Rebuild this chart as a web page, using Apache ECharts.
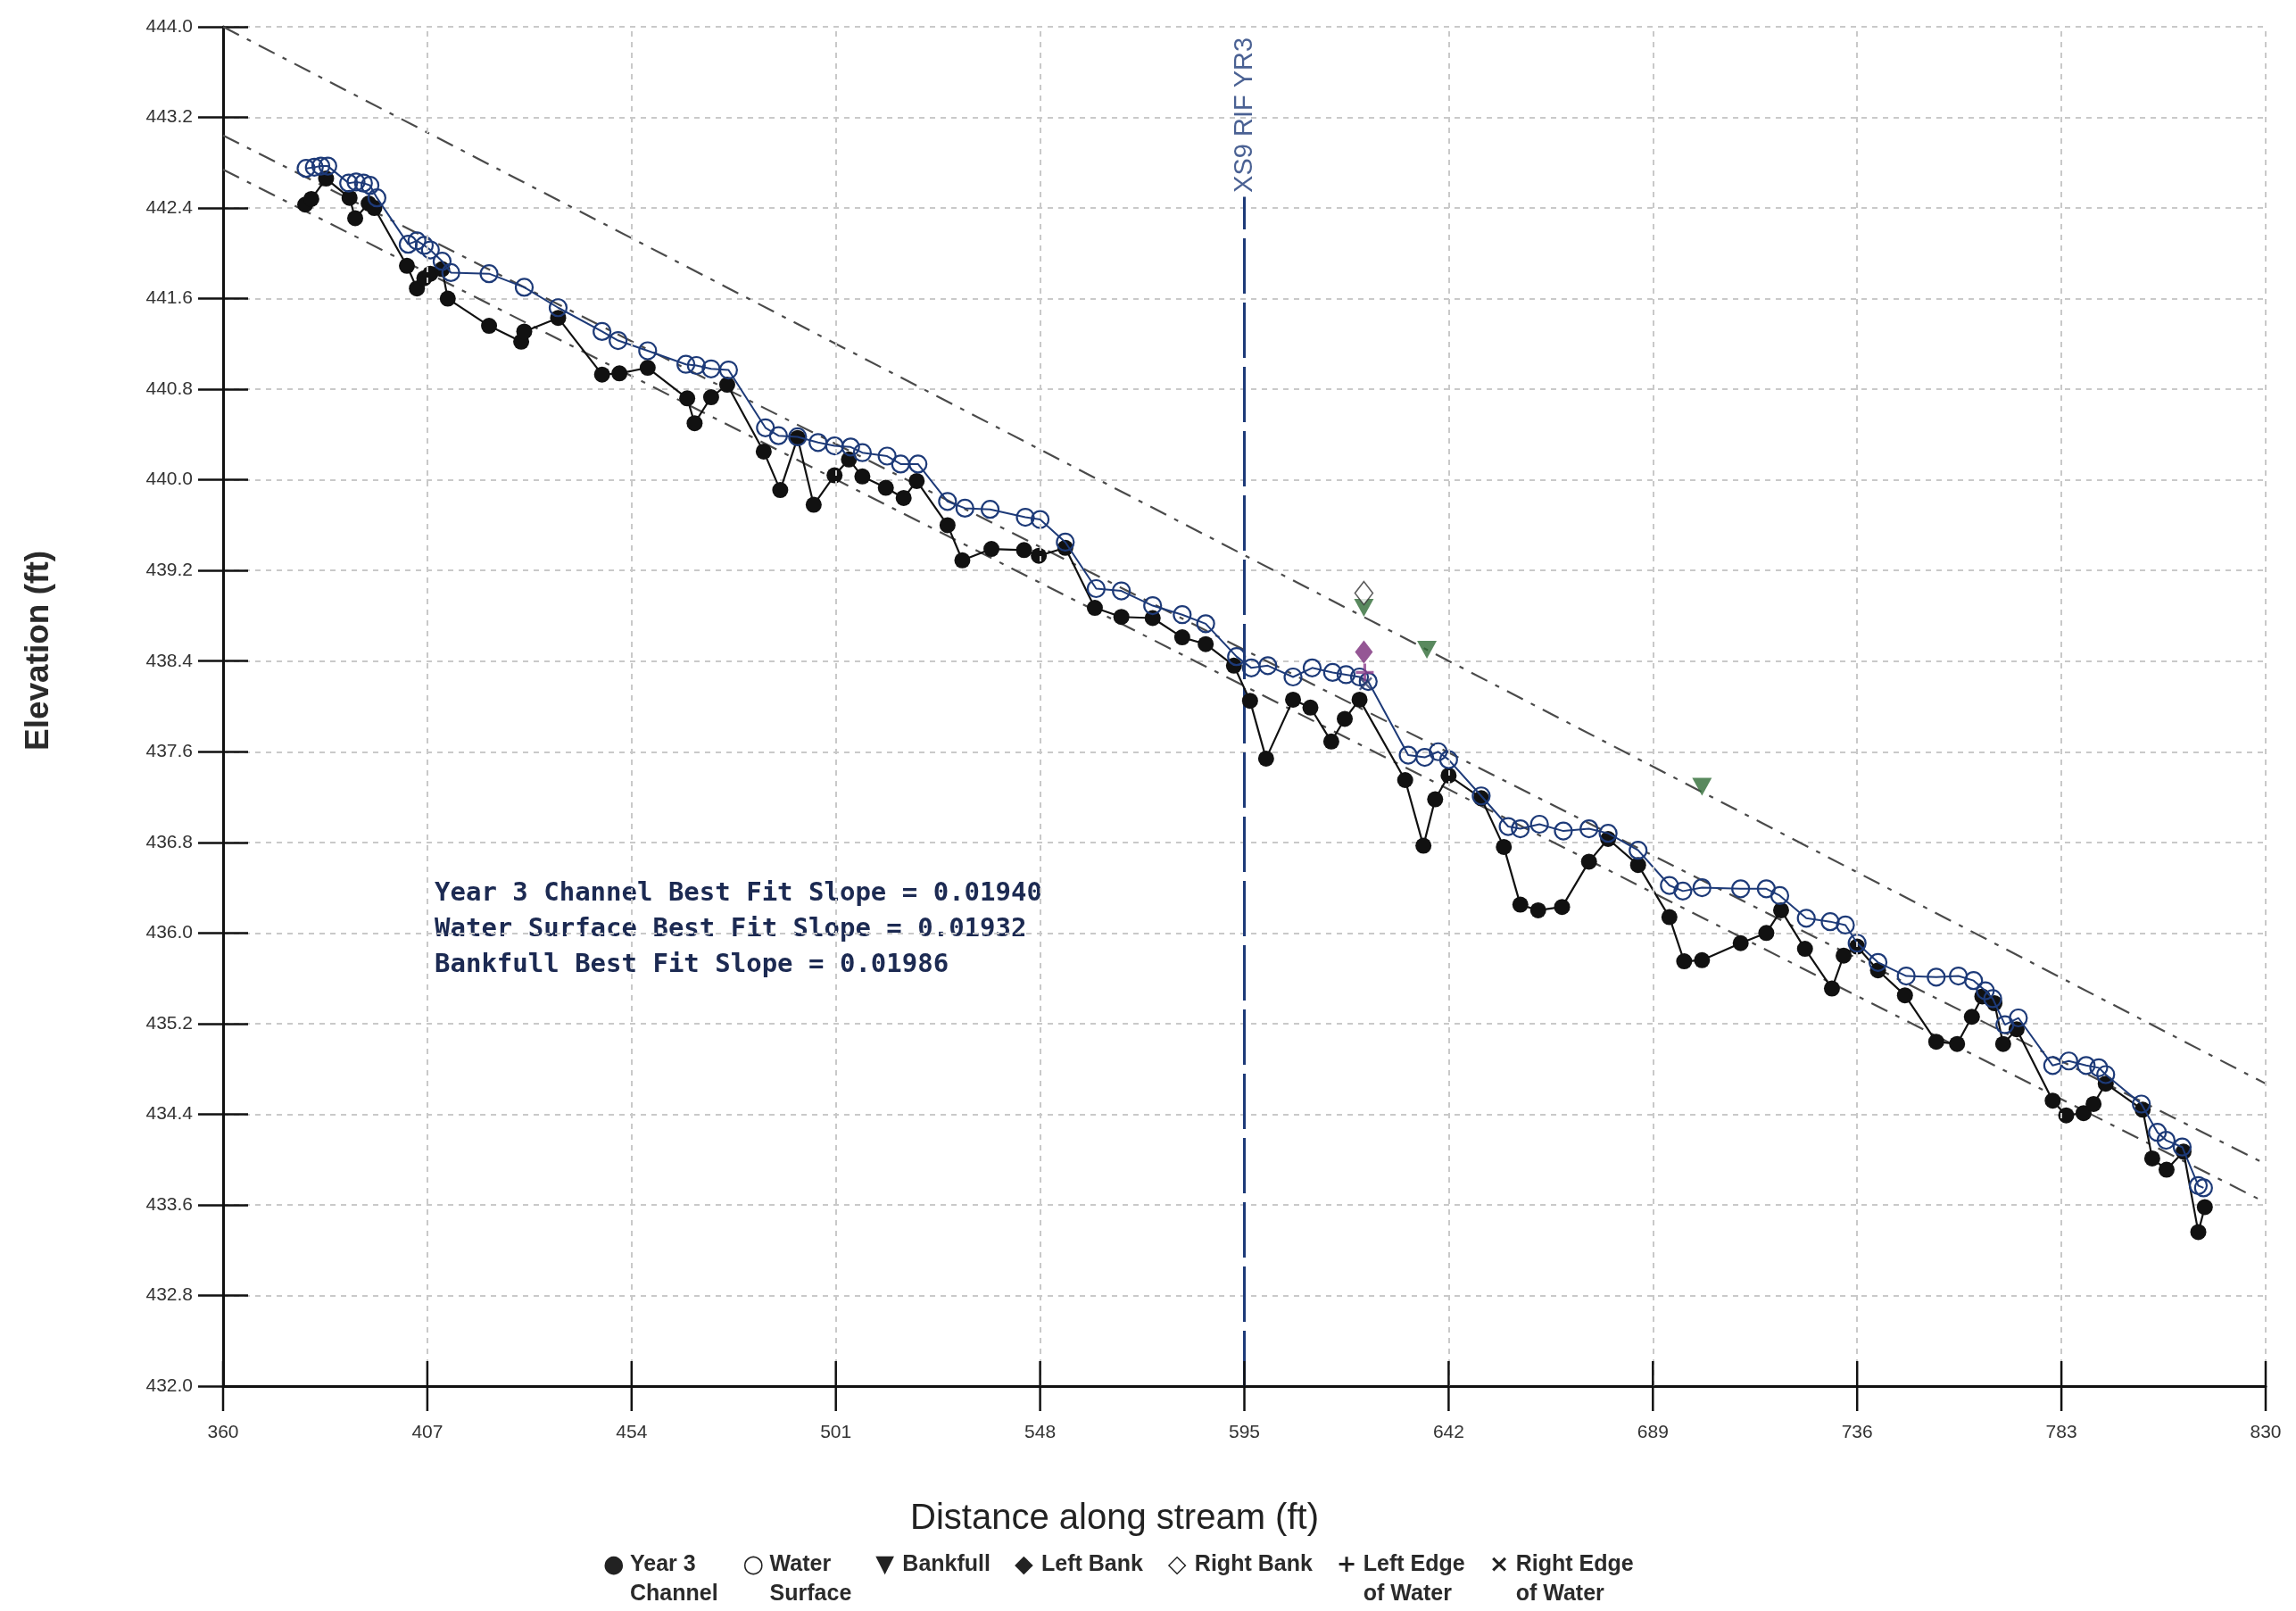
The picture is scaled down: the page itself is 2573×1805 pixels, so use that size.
<!DOCTYPE html>
<html>
<head>
<meta charset="utf-8">
<script src="https://cdn.jsdelivr.net/npm/echarts@6/dist/echarts.min.js"></script>
<style>
html,body{margin:0;padding:0;background:#ffffff;}
#chart{width:2573px;height:1805px;}
</style>
</head>
<body>
<div id="chart"></div>
<script>
// ---------------- data ----------------
const xTicks = [360, 407, 454, 501, 548, 595, 642, 689, 736, 783, 830];

const channelX = [378.9, 380.3, 383.7, 389.1, 390.4, 393.5, 394.8, 402.3, 404.6, 406.3, 407.7, 410.4, 411.7, 421.2, 428.6, 429.3, 437.1, 447.2, 451.2, 457.7,
  466.8, 468.5, 472.3, 476.0, 484.4, 488.2, 492.2, 495.9, 500.7, 504.0, 507.1, 512.5, 516.6, 519.6, 526.7, 530.1, 536.8, 544.3, 547.7, 553.8,
  560.6, 566.7, 573.9, 580.7, 586.1, 592.6, 596.3, 600.0, 606.2, 610.2, 615.0, 618.1, 621.5, 632.0, 636.2, 638.9, 642.0, 649.5, 654.7, 658.5,
  662.6, 668.1, 674.3, 678.7, 685.6, 692.8, 696.2, 700.3, 709.2, 715.1, 718.5, 724.0, 730.2, 732.9, 736.0, 740.8, 747.0, 754.2, 759.0, 762.4,
  764.8, 767.6, 769.6, 772.7, 781.0, 784.1, 788.1, 790.4, 793.2, 801.7, 803.9, 807.2, 811.1, 814.5, 816.0];
const channelY = [442.43, 442.48, 442.66, 442.49, 442.31, 442.44, 442.40, 441.89, 441.69, 441.78, 441.82, 441.86, 441.60, 441.36, 441.22, 441.31, 441.43, 440.93, 440.94, 440.99,
  440.72, 440.50, 440.73, 440.84, 440.25, 439.91, 440.37, 439.78, 440.04, 440.18, 440.03, 439.93, 439.84, 439.99, 439.60, 439.29, 439.39, 439.38, 439.33, 439.40,
  438.87, 438.79, 438.78, 438.61, 438.55, 438.36, 438.05, 437.54, 438.06, 437.99, 437.69, 437.89, 438.06, 437.35, 436.77, 437.18, 437.39, 437.19, 436.76, 436.25,
  436.20, 436.23, 436.63, 436.83, 436.60, 436.14, 435.75, 435.76, 435.91, 436.00, 436.20, 435.86, 435.51, 435.80, 435.88, 435.67, 435.45, 435.04, 435.02, 435.26,
  435.44, 435.38, 435.02, 435.15, 434.52, 434.39, 434.41, 434.49, 434.67, 434.44, 434.01, 433.91, 434.07, 433.36, 433.58];

const waterX = [379.1, 381.0, 382.5, 384.1, 388.9, 390.6, 392.3, 393.8, 395.4, 402.6, 404.6, 406.3, 407.7, 410.4, 412.4, 421.2, 429.3, 437.1, 447.2, 450.9,
  457.7, 466.5, 468.9, 472.3, 476.3, 484.8, 487.8, 492.2, 496.9, 500.7, 504.4, 507.1, 512.8, 515.9, 519.9, 526.7, 530.7, 536.5, 544.6, 548.0,
  553.8, 560.9, 566.7, 573.9, 580.7, 586.1, 593.2, 596.6, 600.4, 606.2, 610.6, 615.3, 618.4, 621.5, 623.5, 632.7, 636.5, 639.6, 642.0, 649.5,
  655.7, 658.5, 662.9, 668.4, 674.3, 678.7, 685.6, 692.8, 695.9, 700.3, 709.2, 715.1, 718.2, 724.3, 729.8, 733.3, 736.0, 740.8, 747.3, 754.2,
  759.3, 762.8, 765.5, 767.2, 770.0, 773.1, 781.0, 784.7, 788.7, 791.6, 793.2, 801.4, 805.1, 807.1, 810.8, 814.5, 815.7];
const waterY = [442.75, 442.76, 442.77, 442.77, 442.62, 442.63, 442.62, 442.60, 442.49, 442.08, 442.11, 442.07, 442.03, 441.93, 441.83, 441.82, 441.70, 441.52, 441.31, 441.23,
  441.14, 441.02, 441.01, 440.98, 440.97, 440.46, 440.39, 440.38, 440.33, 440.30, 440.29, 440.24, 440.21, 440.14, 440.14, 439.81, 439.75, 439.74, 439.67, 439.65,
  439.45, 439.04, 439.02, 438.89, 438.81, 438.73, 438.44, 438.34, 438.36, 438.26, 438.34, 438.30, 438.28, 438.26, 438.22, 437.57, 437.55, 437.60, 437.53, 437.21,
  436.94, 436.92, 436.96, 436.90, 436.92, 436.88, 436.73, 436.42, 436.37, 436.40, 436.39, 436.39, 436.33, 436.13, 436.10, 436.07, 435.91, 435.74, 435.62, 435.61,
  435.62, 435.58, 435.49, 435.42, 435.19, 435.25, 434.83, 434.87, 434.83, 434.81, 434.75, 434.49, 434.24, 434.17, 434.11, 433.77, 433.75];

const bankfullX = [622.5, 637.0, 700.3];
const bankfullY = [438.87, 438.50, 437.29];
const leftBankX = [622.5];
const leftBankY = [438.48];
const rightBankX = [622.5];
const rightBankY = [439.00];
const leftEdgeX = [622.7];
const leftEdgeY = [438.30];
const rightEdgeX = [622.9];
const rightEdgeY = [438.20];

const fitX = [360, 830];
const channelFitY = [442.74, 433.62];
const waterFitY = [443.04, 433.96];
const bankfullFitY = [444.00, 434.67];

const xsLineX = [595, 595];
const xsLineY = [432, 442.5];
const xsLabel = 'XS9 RIF YR3';

const slopeLines = [
  'Year 3 Channel Best Fit Slope = 0.01940',
  'Water Surface Best Fit Slope = 0.01932',
  'Bankfull Best Fit Slope = 0.01986'
];

const legendNames = ['Year 3 Channel', 'Water Surface', 'Bankfull', 'Left Bank', 'Right Bank', 'Left Edge of Water', 'Right Edge of Water'];
const legendLines = {
  'Year 3 Channel': ['Year 3', 'Channel'],
  'Water Surface': ['Water', 'Surface'],
  'Bankfull': ['Bankfull', ''],
  'Left Bank': ['Left Bank', ''],
  'Right Bank': ['Right Bank', ''],
  'Left Edge of Water': ['Left Edge', 'of Water'],
  'Right Edge of Water': ['Right Edge', 'of Water']
};
const legendGlyphs = {
  'Year 3 Channel': '\u25CF', 'Water Surface': '\u25CB', 'Bankfull': '\u25BC',
  'Left Bank': '\u25C6', 'Right Bank': '\u25C7', 'Left Edge of Water': '+', 'Right Edge of Water': '\u00D7'
};

// ---------------- helpers ----------------
const pairs = (xs, ys) => xs.map((x, i) => [x, ys[i]]);
const PLUS = 'path://M4.2,0h1.6v10h-1.6z M0,4.2h10v1.6h-10z';
const CROSS = 'path://M0,1.1 L1.1,0 L10,8.9 L8.9,10 Z M8.9,0 L10,1.1 L1.1,10 L0,8.9 Z';
const NAVY = '#1d3a78';
const FITSTYLE = { color: '#4a4a4a', width: 2.2, type: [20, 10, 5, 10] };
const GRIDSTYLE = { color: '#c9c9c9', width: 2, type: [6, 6] };
const TICKSTYLE = { color: '#111', width: 2.5 };
const TICKLEN = 28;

const chart = echarts.init(document.getElementById('chart'), null, { renderer: 'canvas' });

const option = {
  animation: false,
  backgroundColor: '#ffffff',
  grid: { left: 250, right: 34, top: 30, bottom: 252, containLabel: false },
  xAxis: [
    {
      type: 'value', min: 360, max: 830, position: 'bottom',
      axisLine: { show: true, lineStyle: { color: '#111', width: 3 } },
      axisTick: { show: false, customValues: xTicks },
      axisLabel: { show: true, margin: 42, color: '#333', fontFamily: 'Liberation Sans', fontSize: 21, customValues: xTicks },
      splitLine: { show: false }
    }
  ],
  yAxis: [
    {
      type: 'value', min: 432, max: 444, interval: 0.8, position: 'left',
      axisLine: { show: true, lineStyle: { color: '#111', width: 3 } },
      axisTick: { show: true, inside: false, length: TICKLEN, lineStyle: TICKSTYLE },
      axisLabel: { show: true, margin: 34, color: '#333', fontFamily: 'Liberation Sans', fontSize: 21, formatter: v => v.toFixed(1) },
      splitLine: { show: true, lineStyle: GRIDSTYLE }
    },
    {
      type: 'value', min: 432, max: 444, interval: 0.8, position: 'left',
      axisLine: { show: false },
      axisTick: { show: true, inside: true, length: TICKLEN, lineStyle: TICKSTYLE },
      axisLabel: { show: false },
      splitLine: { show: false }
    }
  ],
  legend: {
    data: legendNames,
    top: 1732, left: 666,
    itemWidth: 0, itemHeight: 0, itemGap: 22,
    selectedMode: false,
    icon: 'rect',
    textStyle: {
      fontFamily: 'Liberation Sans', fontWeight: 'bold', fontSize: 25, color: '#2a2a2a', lineHeight: 33,
      rich: {
        g: { fontFamily: 'DejaVu Sans', fontSize: 27, width: 30, color: '#222', lineHeight: 33 },
        t: { fontFamily: 'Liberation Sans', fontWeight: 'bold', fontSize: 25, color: '#2a2a2a', lineHeight: 33 }
      }
    },
    formatter: name => {
      const l = legendLines[name];
      let s = '{g|' + legendGlyphs[name] + '}{t|' + l[0] + '}';
      s += '\n{g| }{t|' + (l[1] || ' ') + '}';
      return s;
    }
  },
  graphic: [
    {
      type: 'text', x: 44, y: 729, rotation: Math.PI / 2,
      style: { text: 'Elevation (ft)', fill: '#2a2a2a', font: 'bold 37px "Liberation Sans"', textAlign: 'center', textVerticalAlign: 'middle', align: 'center', verticalAlign: 'middle' }
    },
    {
      type: 'text', x: 1249, y: 1702,
      style: { text: 'Distance along stream (ft)', fill: '#222', font: '40px "Liberation Sans"', textAlign: 'center', textVerticalAlign: 'middle', align: 'center', verticalAlign: 'middle' }
    },
    {
      type: 'text', x: 487, y: 981,
      style: { text: slopeLines.join('\n'), fill: '#1c2a52', font: 'bold 29px "DejaVu Sans Mono"', lineHeight: 40, textAlign: 'left', textVerticalAlign: 'top', align: 'left', verticalAlign: 'top' }
    }
  ],
  series: [
    {
      name: 'vgrid', type: 'line', data: [], silent: true, z: 1,
      markLine: { silent: true, symbol: ['none', 'none'], label: { show: false }, lineStyle: GRIDSTYLE, data: xTicks.slice(1).filter(v => v !== 595).map(v => ({ xAxis: v })) }
    },
    {
      // x-axis tick marks crossing the axis line, placed through the x scale
      name: 'xTickMarks', type: 'custom', silent: true, z: 10, clip: false,
      data: xTicks.map(v => [v, 432]),
      renderItem: (params, api) => {
        const p = api.coord([api.value(0), api.value(1)]);
        return { type: 'line', shape: { x1: p[0], y1: p[1] - TICKLEN, x2: p[0], y2: p[1] + TICKLEN }, style: { stroke: TICKSTYLE.color, lineWidth: TICKSTYLE.width } };
      }
    },
    { name: 'bankfullFit', type: 'line', data: pairs(fitX, bankfullFitY), symbol: 'none', silent: true, z: 2, lineStyle: FITSTYLE },
    { name: 'waterFit', type: 'line', data: pairs(fitX, waterFitY), symbol: 'none', silent: true, z: 2, lineStyle: FITSTYLE },
    { name: 'channelFit', type: 'line', data: pairs(fitX, channelFitY), symbol: 'none', silent: true, z: 2, lineStyle: FITSTYLE },
    { name: 'xsLine', type: 'line', data: pairs(xsLineX, xsLineY), symbol: 'none', silent: true, z: 2, lineStyle: { color: NAVY, width: 3, type: [62, 10] } },
    {
      name: 'xsLabel', type: 'scatter', data: [[xsLineX[1], xsLineY[1]]], symbol: 'circle', symbolSize: 1, silent: true, z: 2,
      itemStyle: { color: 'transparent' },
      label: { show: true, position: 'top', distance: 4, rotate: 90, align: 'left', verticalAlign: 'middle', formatter: xsLabel, color: NAVY, fontFamily: 'Liberation Sans', fontSize: 29 }
    },
    {
      name: 'Year 3 Channel', type: 'line', data: pairs(channelX, channelY), z: 3,
      symbol: 'circle', symbolSize: 18, showAllSymbol: true,
      lineStyle: { color: '#111', width: 2.2 }, itemStyle: { color: '#111' }
    },
    {
      name: 'Water Surface', type: 'line', data: pairs(waterX, waterY), z: 4,
      symbol: 'circle', symbolSize: 19, showAllSymbol: true,
      lineStyle: { color: NAVY, width: 2 }, itemStyle: { color: 'rgba(255,255,255,0)', borderColor: NAVY, borderWidth: 2.2 }
    },
    {
      name: 'Bankfull', type: 'scatter', data: pairs(bankfullX, bankfullY), z: 5,
      symbol: 'triangle', symbolRotate: 180, symbolSize: [22, 20], itemStyle: { color: '#2f6b36' }
    },
    {
      name: 'Left Bank', type: 'scatter', data: pairs(leftBankX, leftBankY), z: 5,
      symbol: 'diamond', symbolSize: [20, 26], itemStyle: { color: '#7b2d7b' }
    },
    {
      name: 'Right Bank', type: 'scatter', data: pairs(rightBankX, rightBankY), z: 5,
      symbol: 'diamond', symbolSize: [20, 26], itemStyle: { color: '#ffffff', borderColor: '#333', borderWidth: 1.6 }
    },
    {
      name: 'Left Edge of Water', type: 'scatter', data: pairs(leftEdgeX, leftEdgeY), z: 6,
      symbol: PLUS, symbolSize: 20, itemStyle: { color: '#8c3f8c' }
    },
    {
      name: 'Right Edge of Water', type: 'scatter', data: pairs(rightEdgeX, rightEdgeY), z: 6,
      symbol: CROSS, symbolSize: 15, itemStyle: { color: '#2a3a6a' }
    }
  ]
};

chart.setOption(option);
</script>
</body>
</html>
